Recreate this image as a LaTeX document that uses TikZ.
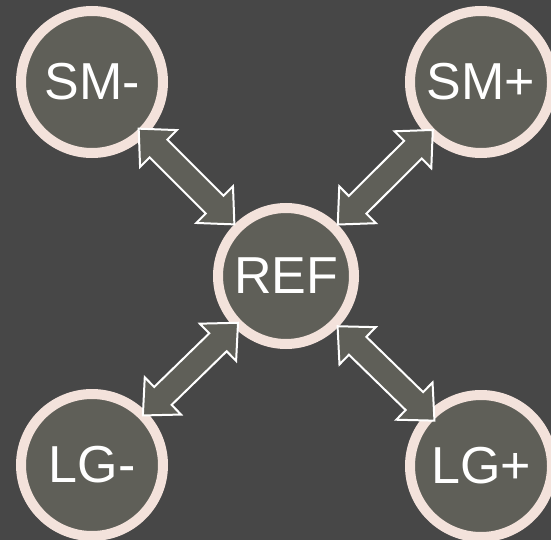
\documentclass[tikz,border=0pt]{standalone}
\usepackage{fontspec}
\setmainfont{Liberation Sans}
\usetikzlibrary{calc}

\definecolor{bgdark}{HTML}{474747}
\definecolor{bubblefill}{HTML}{5F5F58}
\definecolor{ringcol}{HTML}{F3E2DB}

\tikzset{
  bubble/.style={circle, fill=bubblefill, draw=ringcol, line width=10pt,
    inner sep=0pt, minimum size=142pt, text=white,
    font=\fontsize{52}{62}\selectfont},
  hub/.style={bubble, minimum size=136pt},
  dblarrow/.style={fill=bubblefill, draw=white, line width=2pt, line join=miter},
}

% Double-headed block arrow between two named nodes.
% #1, #2: nodes; #3, #4: distance of each tip from the centre of #1 / #2.
\newcommand\linkarrow[4]{%
  \coordinate (ta) at ($(#1)!#3!(#2)$);
  \coordinate (tb) at ($(#2)!#4!(#1)$);
  \coordinate (ha) at ($(ta)!28pt!(tb)$);
  \coordinate (hb) at ($(tb)!28pt!(ta)$);
  \draw[dblarrow] (ta)
    -- ($(ha)!26pt!90:(tb)$) -- ($(ha)!12.5pt!90:(tb)$)
    -- ($(hb)!12.5pt!-90:(ta)$) -- ($(hb)!26pt!-90:(ta)$)
    -- (tb)
    -- ($(hb)!26pt!90:(ta)$) -- ($(hb)!12.5pt!90:(ta)$)
    -- ($(ha)!12.5pt!-90:(tb)$) -- ($(ha)!26pt!-90:(tb)$)
    -- cycle;
}

\begin{document}
\begin{tikzpicture}[x=1pt,y=-1pt]
  \useasboundingbox (0,0) rectangle (551,540);
  \fill[bgdark] (0,0) rectangle (551,540);

  \node[bubble] (smm) at (92,82)  {SM-};
  \node[bubble] (smp) at (481,82) {SM+};
  \node[bubble] (lgm) at (92,465) {LG-};
  \node[bubble] (lgp) at (481,466) {LG+};
  \node[hub]    (ref) at (286,276) {REF};

  \linkarrow{smm}{ref}{66pt}{73pt}
  \linkarrow{smp}{ref}{68pt}{73pt}
  \linkarrow{lgm}{ref}{71pt}{67pt}
  \linkarrow{lgp}{ref}{65pt}{72pt}
\end{tikzpicture}
\end{document}
